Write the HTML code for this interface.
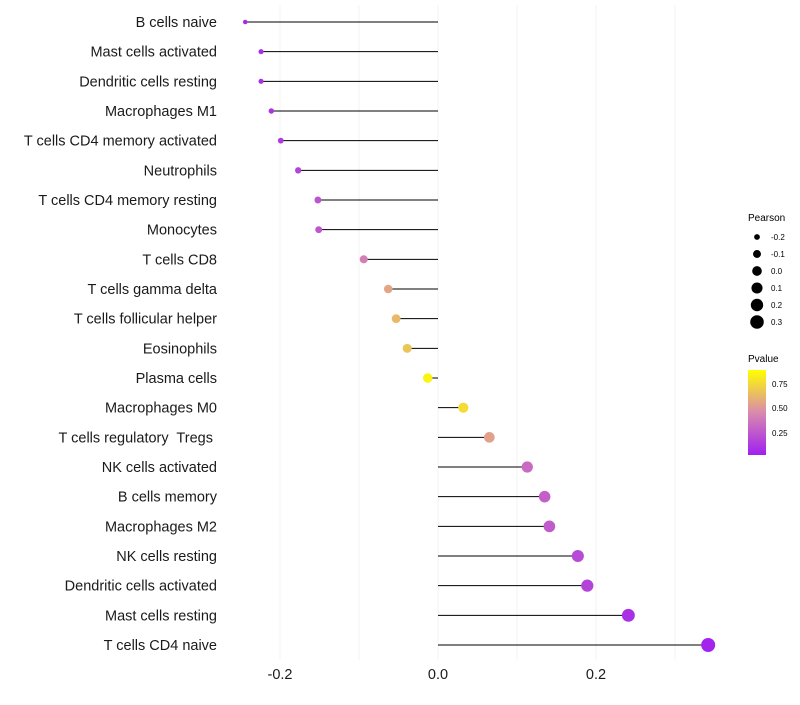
<!DOCTYPE html>
<html><head><meta charset="utf-8"><style>
body{margin:0;background:#fff;font-family:"Liberation Sans",sans-serif}
text{white-space:pre}
</style></head><body>
<svg id="chart" width="800" height="700" xmlns="http://www.w3.org/2000/svg" font-family="Liberation Sans, sans-serif">
<defs><linearGradient id="pg" x1="0" y1="1" x2="0" y2="0">
<stop offset="0" stop-color="#a020f0"/><stop offset="0.5" stop-color="#d98aae"/><stop offset="1" stop-color="#ffff00"/>
</linearGradient></defs>
<g id="grid"></g><g id="marks"></g><g id="labels"></g><g id="xticks"></g>
<g id="sizeleg"><text x="748" y="221" font-size="10">Pearson</text></g>
<g>
<text x="748" y="362" font-size="10">Pvalue</text>
<rect x="748" y="370" width="18" height="85" fill="url(#pg)"/>
<text x="772" y="387" font-size="8">0.75</text><text x="772" y="411" font-size="8">0.50</text><text x="772" y="436" font-size="8">0.25</text>
</g>
</svg>
<script>
const categories=["B cells naive","Mast cells activated","Dendritic cells resting","Macrophages M1","T cells CD4 memory activated","Neutrophils","T cells CD4 memory resting","Monocytes","T cells CD8","T cells gamma delta","T cells follicular helper","Eosinophils","Plasma cells","Macrophages M0","T cells regulatory  Tregs ","NK cells activated","B cells memory","Macrophages M2","NK cells resting","Dendritic cells activated","Mast cells resting","T cells CD4 naive"];
const pearson=[-0.244,-0.224,-0.224,-0.211,-0.199,-0.177,-0.152,-0.151,-0.094,-0.063,-0.053,-0.039,-0.013,0.032,0.065,0.113,0.135,0.141,0.177,0.189,0.241,0.342];
const pvalue=[0.05,0.08,0.08,0.1,0.12,0.17,0.25,0.26,0.45,0.62,0.7,0.75,0.95,0.85,0.6,0.35,0.3,0.28,0.2,0.17,0.08,0.02];
const xTicks=[-0.2,0.0,0.2];
const xTickLabels=["-0.2","0.0","0.2"];
const sizeLegend=[-0.2,-0.1,0.0,0.1,0.2,0.3];
const NS="http://www.w3.org/2000/svg";
const X=v=>438+v*790;
const Y=i=>22+i*(623/21);
const R=v=>Math.sqrt(Math.max(1,5+(v+0.244)*44/0.586));
function lerp(a,b,t){return a.map((x,i)=>Math.round(x+(b[i]-x)*t));}
function col(p){const s=[[160,32,240],[217,138,174],[255,255,0]];let c=p<0.5?lerp(s[0],s[1],p/0.5):lerp(s[1],s[2],(p-0.5)/0.5);return `rgb(${c})`;}
function mk(tag,at,parent){const e=document.createElementNS(NS,tag);for(const k in at)e.setAttribute(k,at[k]);parent.appendChild(e);return e;}
const grid=document.getElementById('grid'),marks=document.getElementById('marks'),labels=document.getElementById('labels'),xt=document.getElementById('xticks');
for(let v=-0.2;v<=0.31;v+=0.1){const g=mk('line',{x1:X(v),x2:X(v),y1:5,y2:660,stroke:'#f3f3f3','stroke-width':1},grid);

}
categories.forEach((c,i)=>{
const y=Y(i);
const l=mk('line',{x1:X(0),x2:X(pearson[i]),y1:y,y2:y,stroke:'#000','stroke-width':1},marks);


const d=mk('circle',{cx:X(pearson[i]),cy:y,r:R(pearson[i]),fill:col(pvalue[i])},marks);


const t=mk('text',{x:217,y:y+5,'text-anchor':'end','font-size':14.5,fill:'#1a1a1a'},labels);
t.textContent=c;


});
xTicks.forEach((v,i)=>{const t=mk('text',{x:X(v),y:679,'text-anchor':'middle','font-size':14.5,fill:'#1a1a1a'},xt);
t.textContent=xTickLabels[i];

});
const sl=document.getElementById('sizeleg');
sizeLegend.forEach((v,i)=>{const y=237+i*17;
const c=mk('circle',{cx:757,cy:y,r:R(v),fill:'#000'},sl);


const t=mk('text',{x:771,y:y+3,'font-size':8},sl);
t.textContent=v.toFixed(1);

});
</script>
</body></html>
